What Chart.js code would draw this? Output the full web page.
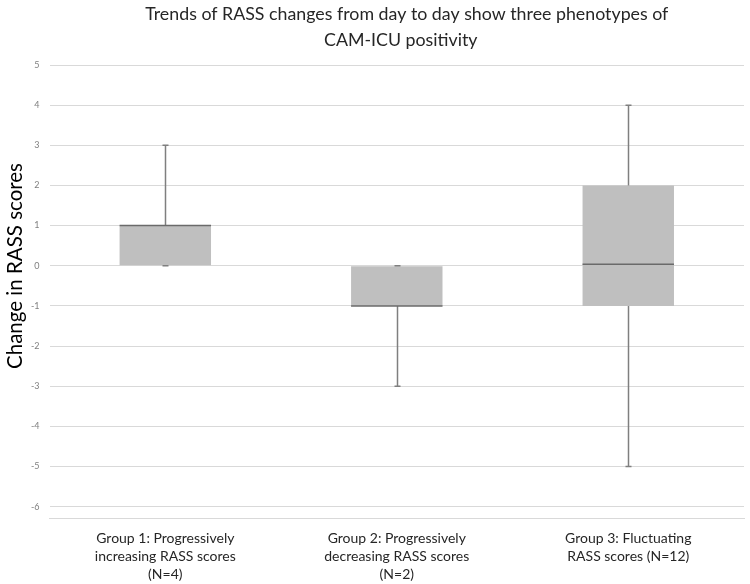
<!DOCTYPE html>
<html>
<head>
<meta charset="utf-8">
<script src="https://cdn.jsdelivr.net/npm/chart.js@4/dist/chart.umd.min.js"></script>
<style>
  html, body { margin: 0; padding: 0; background: #fff; }
  #wrap { width: 750px; height: 584px; }
</style>
</head>
<body>
<div id="wrap"><canvas id="boxChart"></canvas></div>
<script>
// box plot data
const groups = [
  ["Group 1: Progressively", "increasing RASS scores", "(N=4)"],
  ["Group 2: Progressively", "decreasing RASS scores", "(N=2)"],
  ["Group 3: Fluctuating", "RASS scores (N=12)"]
];
const minVals = [0, -3, -5];
const q1Vals = [0, -1, -1];
const medianVals = [1, -1, 0.04];
const q3Vals = [1, 0, 2];
const maxVals = [3, 0, 4];
const yTicks = [5, 4, 3, 2, 1, 0, -1, -2, -3, -4, -5, -6];

const titleLines = ['Trends of RASS changes from day to day show three phenotypes of', 'CAM-ICU positivity'];
const yTitle = 'Change in RASS scores';

const FONT = "Lato, 'Open Sans', sans-serif";

// title (centred over the plot area like the original) and y axis title
const textPlugin = {
  id: 'texts',
  afterDraw(chart) {
    const ctx = chart.ctx;
    const area = chart.chartArea;
    ctx.save();
    ctx.fillStyle = '#262626';
    ctx.font = '17.8px ' + FONT;
    ctx.textAlign = 'center';
    ctx.textBaseline = 'middle';
    const cx = (area.left + area.right) / 2 + 4;
    ctx.fillText(titleLines[0], cx + 6, 14);
    ctx.fillText(titleLines[1], cx, 40);

    ctx.fillStyle = '#000';
    ctx.font = '20.5px ' + FONT;
    ctx.translate(15, 266);
    ctx.rotate(-Math.PI / 2);
    ctx.fillText(yTitle, 0, 0);
    ctx.restore();
  }
};

// whiskers + median lines
const whiskerPlugin = {
  id: 'whiskers',
  afterDatasetsDraw(chart) {
    const ctx = chart.ctx;
    const x = chart.scales.x;
    const y = chart.scales.y;
    const bars = chart.getDatasetMeta(0).data;
    ctx.save();
    groups.forEach((g, i) => {
      const cx = Math.round(x.getPixelForValue(i)) + 0.5;
      const half = bars[i].width / 2;
      ctx.strokeStyle = '#7f7f7f';
      ctx.lineWidth = 1.5;
      ctx.beginPath();
      // upper whisker
      ctx.moveTo(cx, y.getPixelForValue(q3Vals[i]));
      ctx.lineTo(cx, y.getPixelForValue(maxVals[i]));
      ctx.moveTo(cx - 3, y.getPixelForValue(maxVals[i]));
      ctx.lineTo(cx + 3, y.getPixelForValue(maxVals[i]));
      // lower whisker
      ctx.moveTo(cx, y.getPixelForValue(q1Vals[i]));
      ctx.lineTo(cx, y.getPixelForValue(minVals[i]));
      ctx.moveTo(cx - 3, y.getPixelForValue(minVals[i]));
      ctx.lineTo(cx + 3, y.getPixelForValue(minVals[i]));
      ctx.stroke();
      // median
      ctx.strokeStyle = '#6a6a6a';
      ctx.beginPath();
      ctx.moveTo(bars[i].x - half, y.getPixelForValue(medianVals[i]));
      ctx.lineTo(bars[i].x + half, y.getPixelForValue(medianVals[i]));
      ctx.stroke();
    });
    ctx.restore();
  }
};

new Chart(document.getElementById('boxChart'), {
  type: 'bar',
  data: {
    labels: groups,
    datasets: [{
      data: q1Vals.map((v, i) => [v, q3Vals[i]]),
      backgroundColor: '#bfbfbf',
      borderWidth: 0,
      categoryPercentage: 1,
      barPercentage: 0.395
    }]
  },
  options: {
    responsive: true,
    maintainAspectRatio: false,
    animation: false,
    layout: { padding: { left: 21, right: 6, top: 65, bottom: -10 } },
    plugins: {
      legend: { display: false },
      tooltip: { enabled: false },
      title: { display: false }
    },
    scales: {
      x: {
        grid: { display: false, drawTicks: false },
        border: { display: true, color: '#d9d9d9', width: 1 },
        ticks: {
          color: '#262626',
          font: { family: FONT, size: 14, lineHeight: 1.27 },
          maxRotation: 0,
          autoSkip: false,
          padding: 11
        }
      },
      y: {
        min: -6.3,
        max: 5,
        afterBuildTicks(axis) {
          axis.ticks = yTicks.map(v => ({ value: v }));
        },
        grid: { color: '#d9d9d9', lineWidth: 1, drawTicks: false },
        border: { display: false },
        ticks: {
          color: '#7f7f7f',
          font: { family: FONT, size: 9 },
          padding: 10
        }
      }
    }
  },
  plugins: [whiskerPlugin, textPlugin]
});
</script>
</body>
</html>
